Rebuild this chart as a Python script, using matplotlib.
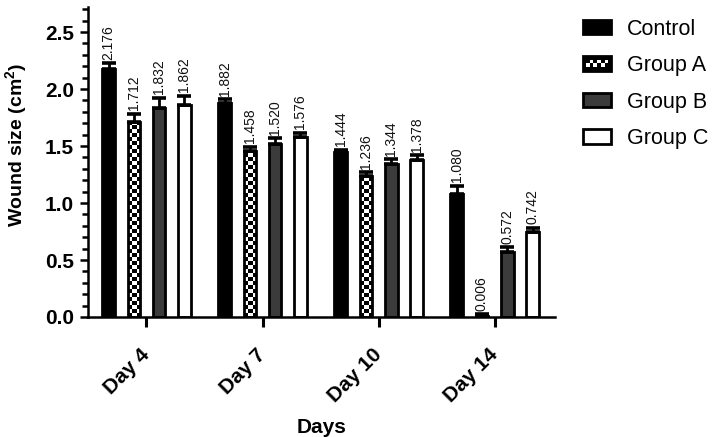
import matplotlib

matplotlib.use("Agg")
import matplotlib.pyplot as plt
import numpy as np
from matplotlib.legend_handler import HandlerPatch
from matplotlib.patches import Rectangle
from matplotlib.ticker import FormatStrFormatter, MultipleLocator

days = ["Day 4", "Day 7", "Day 10", "Day 14"]
groups = ["Control", "Group A", "Group B", "Group C"]

control = [2.176, 1.882, 1.444, 1.080]
group_a = [1.712, 1.458, 1.236, 0.006]
group_b = [1.832, 1.520, 1.344, 0.572]
group_c = [1.862, 1.576, 1.378, 0.742]

control_err = [0.05, 0.03, 0.025, 0.07]
group_a_err = [0.07, 0.035, 0.035, 0.02]
group_b_err = [0.09, 0.05, 0.04, 0.04]
group_c_err = [0.08, 0.04, 0.04, 0.04]

FONT = "Liberation Sans"
EDGE_LW = 2.0
FILLS = {"Control": "black", "Group A": "white", "Group B": "#3b3b3b", "Group C": "white"}


class CheckerHandler(HandlerPatch):
    """Legend key: black box with a row of staggered white squares."""

    def create_artists(self, legend, orig_handle, xdescent, ydescent,
                       width, height, fontsize, trans):
        x0, y0 = -xdescent, -ydescent
        arts = [Rectangle((x0, y0), width, height, facecolor="black",
                          edgecolor="black", lw=EDGE_LW, transform=trans)]
        ncols = 6
        cw = width * 0.8 / ncols
        ch = cw
        sx = x0 + width * 0.1
        sy = y0 + height / 2 - ch
        for r in range(2):
            for c in range(ncols):
                if (r + c) % 2 == 0:
                    arts.append(Rectangle((sx + c * cw, sy + r * ch), cw, ch,
                                          facecolor="white", edgecolor="none",
                                          transform=trans))
        return arts


def main():
    plt.rcParams.update({
        "font.family": [FONT, "DejaVu Sans"],
        "mathtext.fontset": "custom",
        "mathtext.rm": FONT,
        "mathtext.bf": f"{FONT}:bold",
        "axes.linewidth": 1.8,
    })

    fig = plt.figure(figsize=(7.19, 4.37), dpi=100)
    ax = fig.add_axes([0.1224, 0.2746, 0.6495, 0.7094])

    x = np.arange(len(days))
    pitch = 0.218
    width = 0.108
    series = [control, group_a, group_b, group_c]
    errs = [control_err, group_a_err, group_b_err, group_c_err]

    for i, (name, vals, err) in enumerate(zip(groups, series, errs)):
        xpos = x + (i - 1.5) * pitch
        bars = ax.bar(xpos, vals, width, facecolor=FILLS[name], edgecolor="none", zorder=2)
        if name == "Group A":
            cell_y = 0.035
            for p in bars:
                h = p.get_height()
                nrows = max(1, int(np.ceil(h / cell_y)))
                grid = np.add.outer(np.arange(nrows), np.arange(3)) % 2
                im = ax.imshow(grid, cmap="gray", vmin=0, vmax=1, origin="lower",
                               extent=(p.get_x(), p.get_x() + p.get_width(), 0, nrows * cell_y),
                               aspect="auto", interpolation="nearest", zorder=2.1)
                im.set_clip_path(p)
        ax.bar(xpos, vals, width, facecolor="none", edgecolor="black",
               linewidth=EDGE_LW, zorder=3)
        ax.errorbar(xpos, vals, yerr=[np.zeros(len(vals)), err], fmt="none",
                    ecolor="black", elinewidth=2.0, capsize=5, capthick=2.6, zorder=4)
        for xi, v, e in zip(xpos, vals, err):
            ax.annotate(f"{v:.3f}", (xi, v + e), xytext=(0, 2.5), textcoords="offset points",
                        rotation=90, ha="center", va="bottom", fontsize=10, color="#111111")

    ax.set_xlim(-0.504, 3.52)
    ax.set_ylim(0, 2.72)

    for s in ("top", "right"):
        ax.spines[s].set_visible(False)

    ax.yaxis.set_major_locator(MultipleLocator(0.5))
    ax.yaxis.set_minor_locator(MultipleLocator(0.1))
    ax.yaxis.set_major_formatter(FormatStrFormatter("%.1f"))
    ax.tick_params(axis="y", which="major", length=6, width=1.8, pad=4, labelsize=15)
    ax.tick_params(axis="y", which="minor", length=4, width=1.8)
    for lab in ax.get_yticklabels():
        lab.set_fontweight("bold")

    ax.set_xticks(x)
    ax.set_xticklabels(days, rotation=45, ha="right", va="center",
                       rotation_mode="anchor", fontsize=15, fontweight="bold")
    ax.tick_params(axis="x", length=7, width=2.2, pad=18)

    ax.set_ylabel(r"Wound size (cm$^{\mathbf{2}}$)", fontsize=14, fontweight="bold")
    ax.yaxis.set_label_coords(-0.125, 0.555)
    ax.set_xlabel("Days", fontsize=15, fontweight="bold")
    ax.xaxis.set_label_coords(0.5, -0.325)

    handles = []
    for name in groups:
        handles.append(Rectangle((0, 0), 1, 1, facecolor=FILLS[name],
                                 edgecolor="black", lw=EDGE_LW))
    fig.legend(handles, groups, loc="upper left", bbox_to_anchor=(0.784, 1.002),
               frameon=False, fontsize=15.5, handlelength=1.3, handleheight=0.65,
               labelspacing=0.72, handletextpad=0.75,
               handler_map={handles[1]: CheckerHandler()})

    fig.savefig("out.png", dpi=100, facecolor="white")


if __name__ == "__main__":
    main()
